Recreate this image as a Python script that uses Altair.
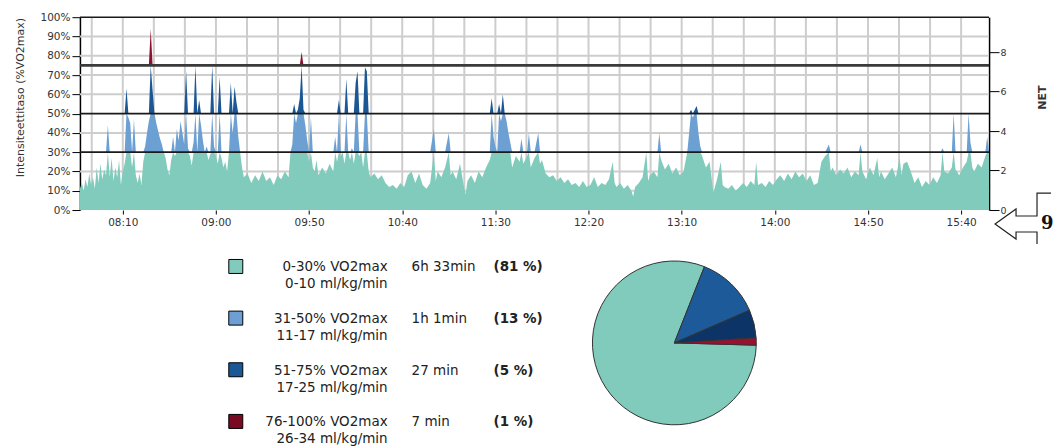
import altair as alt
import pandas as pd

# ---------------- data ----------------
START_MIN = 7 * 60 + 47    # 07:47
END_MIN = 15 * 60 + 55     # 15:55

minute_offsets = (
    list(range(0, 89))
    + list(range(90, 113, 2))
    + list(range(113, 125))
    + [125, 126, 127, 128, 130, 132, 134, 136, 137, 138, 139, 140, 141, 142, 143, 144, 145, 146,
       147, 148, 149, 150, 151, 152, 153, 154, 155]
    + list(range(156, 189, 2))
    + [190, 191, 192, 194, 196, 198, 199, 200, 202, 204, 206, 207, 208, 210, 212, 214, 216, 218, 220]
    + [221, 222, 223, 224, 225, 226, 227, 228, 229, 230, 231, 232, 234, 236, 237, 238, 240, 241,
       242, 244, 246, 247, 248]
    + list(range(250, 285, 2)) + [286, 287, 288]
    + [290, 292, 294, 296, 297, 298, 300, 302, 304, 305, 306, 308, 310, 311, 312, 314, 316, 318,
       320, 322, 324]
    + [326, 327, 328, 329, 330, 331, 332, 333, 334, 336, 338, 340, 342, 344, 345, 346, 348, 350,
       352, 354, 356, 358]
    + [360, 362, 363, 364, 366, 368, 370, 372, 374, 376, 378, 380, 382, 384, 386, 388, 390, 392,
       394, 396]
    + [398, 400, 402, 403, 404, 406, 408, 410, 412, 414, 416, 418, 419, 420, 422, 424, 426, 428,
       429, 430]
    + [432, 434, 436, 438, 440, 441, 442, 444, 446, 448, 450, 452, 454, 456, 458, 460, 462, 463,
       464, 466]
    + [468, 469, 470, 472, 474, 476, 477, 478, 479, 480, 482, 484, 486, 487, 488]
)

intensity = (
    [11, 14, 10, 16, 12, 19, 13, 17, 11, 22, 14, 24, 16, 21, 18, 44, 17, 27, 15, 22]
    + [17, 26, 13, 20, 24, 63, 48, 45, 22, 47, 18, 14, 19, 13, 25, 33, 40, 46, 94, 62]
    + [50, 45, 41, 37, 34, 30, 27, 21, 18, 26, 38, 28, 42, 36, 46, 40, 34, 72, 32, 28]
    + [23, 35, 75, 30, 57, 44, 36, 30, 33, 26, 29, 75, 33, 28, 24, 69, 27, 22, 25, 20]
    + [30, 66, 40, 64, 56, 38, 30, 22, 17]
    + [19, 14, 18, 15, 20, 15, 17, 13, 18, 16, 20, 17]
    + [30, 34, 55, 45, 52, 58, 82, 52, 44, 36, 25, 48]
    + [22, 20, 26, 18, 22, 19, 24, 20, 38, 25, 57, 28, 30, 24, 68, 30, 26, 32,
       24, 66, 72, 28, 30, 22, 74, 72, 20]
    + [17, 19, 16, 18, 14, 12, 13, 11, 14, 12, 18, 20, 14, 19, 13, 11, 14]
    + [42, 15, 20, 17, 22, 40, 18, 20, 16, 24, 13, 8, 15, 18, 14, 20, 17, 22, 26]
    + [58, 38, 33, 30, 55, 46, 60, 50, 46, 40, 35, 22, 28, 25, 37, 24, 28, 40,
       22, 27, 40, 24, 26]
    + [19, 17, 18, 15, 17, 14, 16, 13, 14, 12, 15, 12, 13, 17, 12, 14, 13, 16, 25, 14, 12]
    + [14, 11, 13, 10, 7, 12, 14, 17, 30, 15, 18, 20, 17, 40, 26, 21, 24, 19,
       22, 18, 20]
    + [30, 40, 52, 48, 52, 54, 40, 33, 28, 22, 25, 9, 16, 25, 13, 12, 11, 13,
       10, 12, 14, 12]
    + [15, 13, 25, 13, 14, 12, 15, 13, 16, 18, 15, 19, 16, 20, 17, 19, 15, 18,
       13, 14]
    + [25, 28, 34, 20, 22, 18, 21, 19, 22, 17, 20, 18, 34, 20, 16, 22, 18, 27,
       17, 20]
    + [16, 19, 22, 17, 27, 18, 24, 25, 20, 14, 17, 12, 15, 13, 17, 14, 18, 32,
       20, 19]
    + [22, 50, 21, 18, 22, 25, 50, 35, 22, 20, 24, 22, 28, 38, 30]
)
assert len(minute_offsets) == len(intensity)

tick_labels = ["08:10", "09:00", "09:50", "10:40", "11:30", "12:20", "13:10", "14:00", "14:50", "15:40"]
band_edges = [0, 30, 50, 75, 100]
gray_levels = [10, 20, 40, 60, 70, 80, 90]
net_ticks = [0, 2, 4, 6, 8]
NET_MAX = 9.77

bands = ["0-30% VO2max", "31-50% VO2max", "51-75% VO2max", "76-100% VO2max"]
band_rates = ["0-10 ml/kg/min", "11-17 ml/kg/min", "17-25 ml/kg/min", "26-34 ml/kg/min"]
durations = ["6h 33min", "1h 1min", "27 min", "7 min"]
pct_labels = ["(81 %)", "(13 %)", "(5 %)", "(1 %)"]
band_minutes = [393, 61, 27, 7]

# decoration: cropped call-out arrow at the right edge (page pixel outline)
arrow_x = [1052, 1038, 1038, 1017, 1017, 996, 1017, 1017, 1038, 1038]
arrow_y = [193, 193, 216, 216, 209, 224, 239, 232, 232, 244]

# ---------------- styles ----------------
FONT = "DejaVu Sans"
area_colors = ["#80cbbc", "#6c9fd2", "#1b5794", "#8e1030"]
legend_colors = ["#80cbbc", "#6d9fd4", "#1a5896", "#7a0a22"]
pie_colors = ["#80cbbc", "#1c5a9a", "#0c3466", "#9a1030"]

TOP_W, TOP_H = 910, 193
BOT_W, BOT_H = 910, 200
PLOT_LEFT_PAGE, BOT_TOP_PAGE = 80, 240

def hhmm_to_min(s):
    h, m = s.split(":")
    return int(h) * 60 + int(m)

tick_minutes = [hhmm_to_min(s) for s in tick_labels]
grid_step = 50 / 3
grid_minutes = []
g = tick_minutes[0]
while g - grid_step >= START_MIN:
    g -= grid_step
while g <= END_MIN:
    grid_minutes.append(g)
    g += grid_step

df = pd.DataFrame({"t": [START_MIN + m for m in minute_offsets], "v": intensity})

x_scale = alt.Scale(domain=[START_MIN, END_MIN], nice=False, zero=False)
y_scale = alt.Scale(domain=[0, 100], nice=False, zero=False)

x_axis = alt.Axis(
    values=tick_minutes,
    labelExpr="timeFormat(datetime(2000, 0, 1, 0, datum.value), '%H:%M')",
    title=None, grid=False, domain=False, tickColor="#000", tickSize=4,
    labelFontSize=10.5, labelColor="#333", labelPadding=3, labelFont=FONT,
)
y_axis = alt.Axis(
    values=list(range(0, 101, 10)), labelExpr="datum.value + '%'",
    title="Intensiteettitaso (%VO2max)", grid=False,
    domainColor="#000", domainWidth=1.5, tickColor="#000", tickSize=8,
    labelFontSize=10.5, labelColor="#333", labelPadding=2, labelFont=FONT,
    titleFontSize=11, titleFontWeight="normal", titleColor="#333", titleFont=FONT,
    titleAngle=270, titleX=-59, titleY=80, titleAlign="center", titleBaseline="middle",
)

def X(field):
    return alt.X(field, scale=x_scale, axis=x_axis)

def Y(field):
    return alt.Y(field, scale=y_scale, axis=y_axis)

vgrid = alt.Chart(pd.DataFrame({"t": grid_minutes})).mark_rule(
    color="#cdcdcd", strokeWidth=2
).encode(x=X("t:Q"))

hgrid = alt.Chart(pd.DataFrame({"hi": gray_levels})).mark_rule(
    color="#cdcdcd", strokeWidth=2
).encode(y=Y("hi:Q"))

areas = []
for i in range(4):
    lo, hi = band_edges[i], band_edges[i + 1]
    areas.append(
        alt.Chart(df)
        .transform_calculate(lo=f"{lo}", hi=f"min(max(datum.v, {lo}), {hi})")
        .mark_area(color=area_colors[i], interpolate="linear", opacity=1)
        .encode(x=X("t:Q"), y=Y("hi:Q"), y2="lo:Q")
    )

thin_levels = [band_edges[1], band_edges[2], band_edges[4]]
black_rules = alt.Chart(pd.DataFrame({"hi": thin_levels})).mark_rule(
    color="#1a1a1a", strokeWidth=1.6
).encode(y=Y("hi:Q"))
rule75 = alt.Chart(pd.DataFrame({"hi": [band_edges[3]]})).mark_rule(
    color="#3a3a3a", strokeWidth=2.6
).encode(y=Y("hi:Q"))

net_layer = alt.Chart(pd.DataFrame({"net": net_ticks})).mark_point(opacity=0).encode(
    x=alt.value(0),
    y=alt.Y(
        "net:Q",
        scale=alt.Scale(domain=[0, NET_MAX], nice=False, zero=True),
        axis=alt.Axis(
            orient="right", values=net_ticks, title="NET", grid=False,
            domainColor="#000", domainWidth=1.5, tickColor="#000", tickSize=10,
            labelFontSize=9.5, labelColor="#333", labelPadding=1, labelFont=FONT,
            titleFontSize=11, titleFontWeight="bold", titleColor="#333", titleFont=FONT,
            titleAngle=270, titleX=53, titleY=80, titleAlign="center", titleBaseline="middle",
        ),
    ),
)

main = alt.layer(vgrid, hgrid, *areas, black_rules, rule75)
top = alt.layer(main, net_layer).resolve_scale(y="independent").properties(
    width=TOP_W, height=TOP_H
)

# ---------------- bottom: legend + pie ----------------
legend_df = pd.DataFrame({
    "row": list(range(len(bands))),
    "band": bands, "rate": band_rates, "dur": durations, "pct": pct_labels,
    "minutes": band_minutes,
})

ROW0, ROW_STEP = 26.5, 51.7
d0 = -ROW0 / ROW_STEP
row_scale = alt.Scale(domain=[d0, d0 + BOT_H / ROW_STEP], reverse=True, nice=False, zero=False)
yrow = alt.Y("row:Q", scale=row_scale, axis=None)

lbase = alt.Chart(legend_df)
squares = lbase.mark_square(size=196, filled=True, stroke="#000", strokeWidth=1, opacity=1).encode(
    x=alt.value(236 - PLOT_LEFT_PAGE), y=yrow,
    color=alt.Color("band:N", scale=alt.Scale(domain=bands, range=legend_colors), legend=None),
)
txt_kw = dict(font=FONT, fontSize=13.5, color="#222", baseline="middle")
line1 = lbase.mark_text(align="right", dy=1, **txt_kw).encode(
    x=alt.value(388 - PLOT_LEFT_PAGE), y=yrow, text="band:N")
line2 = lbase.mark_text(align="right", dy=18, **txt_kw).encode(
    x=alt.value(388 - PLOT_LEFT_PAGE), y=yrow, text="rate:N")
dur_t = lbase.mark_text(align="left", dy=1, **txt_kw).encode(
    x=alt.value(412 - PLOT_LEFT_PAGE), y=yrow, text="dur:N")
pct_t = lbase.mark_text(align="left", dy=1, fontWeight="bold", **txt_kw).encode(
    x=alt.value(494 - PLOT_LEFT_PAGE), y=yrow, text="pct:N")
legend_group = alt.layer(squares, line1, line2, dur_t, pct_t)

PIE_START = 1.599
pie = alt.Chart(legend_df).mark_arc(radius=82, stroke="#333", strokeWidth=1).encode(
    theta=alt.Theta("minutes:Q", stack=True, scale=alt.Scale(range=[PIE_START, PIE_START + 6.2832])),
    color=alt.Color("band:N", scale=alt.Scale(domain=bands, range=pie_colors), legend=None),
    order=alt.Order("row:Q", sort="ascending"),
    x=alt.value(675 - PLOT_LEFT_PAGE),
    y=alt.value(343 - BOT_TOP_PAGE),
)

arrow_df = pd.DataFrame({"ax": arrow_x, "ay": arrow_y, "i": list(range(len(arrow_x)))})
ax_scale = alt.Scale(domain=[PLOT_LEFT_PAGE, PLOT_LEFT_PAGE + BOT_W], nice=False, zero=False)
ay_scale = alt.Scale(domain=[BOT_TOP_PAGE, BOT_TOP_PAGE + BOT_H], reverse=True, nice=False, zero=False)
arrow = alt.Chart(arrow_df).mark_line(color="#222", strokeWidth=1.2).encode(
    x=alt.X("ax:Q", scale=ax_scale, axis=None),
    y=alt.Y("ay:Q", scale=ay_scale, axis=None),
    order="i:Q",
)
nine = alt.Chart(pd.DataFrame({"ax": [1042], "ay": [224], "s": ["9"]})).mark_text(
    font="DejaVu Serif", fontSize=18, fontWeight="bold", align="left", baseline="middle", color="#111"
).encode(
    x=alt.X("ax:Q", scale=ax_scale, axis=None),
    y=alt.Y("ay:Q", scale=ay_scale, axis=None),
    text="s:N",
)
arrow_group = alt.layer(arrow, nine)

bottom = alt.layer(legend_group, pie, arrow_group).resolve_scale(
    x="independent", y="independent", color="independent"
).properties(width=BOT_W, height=BOT_H)

chart = (
    alt.vconcat(top, bottom, spacing=30, bounds="flush")
    .properties(padding={"left": 7, "top": 4, "right": 0, "bottom": 0})
    .configure(font=FONT)
    .configure_view(strokeWidth=0)
)

chart.save("out.html", embed_options={"renderer": "svg", "actions": False})
